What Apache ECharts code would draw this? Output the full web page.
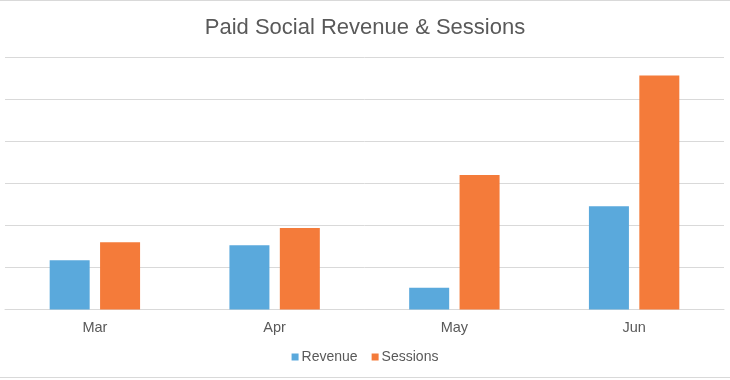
<!DOCTYPE html>
<html>
<head>
<meta charset="utf-8">
<script src="https://cdn.jsdelivr.net/npm/echarts@6/dist/echarts.min.js"></script>
<style>
html,body{margin:0;padding:0;background:#fff;}
#c{width:730px;height:380px;}
</style>
</head>
<body>
<div id="c"></div>
<script>
const categories = ['Mar', 'Apr', 'May', 'Jun'];
const revenue = [1.17, 1.53, 0.52, 2.46];
const sessions = [1.6, 1.94, 3.2, 5.57];
const yTicks = [0, 1, 2, 3, 4, 5, 6];

const chart = echarts.init(document.getElementById('c'));
chart.setOption({
  animation: false,
  backgroundColor: '#ffffff',
  title: {
    text: 'Paid Social Revenue & Sessions',
    left: 'center',
    top: 12,
    textStyle: { fontFamily: 'Liberation Sans', fontSize: 22, fontWeight: 'normal', color: '#595959' }
  },
  legend: {
    bottom: 11,
    left: 'center',
    itemWidth: 7,
    itemHeight: 7,
    itemGap: 14,
    icon: 'rect',
    textStyle: { fontFamily: 'Liberation Sans', fontSize: 14, color: '#595959', padding: [0, 0, 0, -2] },
    data: ['Revenue', 'Sessions']
  },
  grid: { left: 5, right: 6, top: 57.5, bottom: 70.5, containLabel: false },
  xAxis: {
    type: 'category',
    data: categories,
    axisLine: { lineStyle: { color: '#d9d9d9', width: 1 } },
    axisTick: { show: false },
    axisLabel: { fontFamily: 'Liberation Sans', fontSize: 14.5, color: '#595959', margin: 11 }
  },
  yAxis: {
    type: 'value',
    min: yTicks[0],
    max: yTicks[yTicks.length - 1],
    interval: 1,
    axisLabel: { show: false },
    axisLine: { show: false },
    axisTick: { show: false },
    splitLine: { lineStyle: { color: '#d9d9d9', width: 1 } }
  },
  series: [
    {
      name: 'Revenue', type: 'bar', data: revenue,
      barWidth: 40, barGap: '26%',
      itemStyle: { color: '#5aa9dc' }
    },
    {
      name: 'Sessions', type: 'bar', data: sessions,
      barWidth: 40,
      itemStyle: { color: '#f47b3a' }
    }
  ],
  graphic: [
    { type: 'rect', shape: { x: 0, y: 0, width: 730, height: 1 }, style: { fill: '#d9d9d9' } },
    { type: 'rect', shape: { x: 0, y: 377, width: 730, height: 1 }, style: { fill: '#d9d9d9' } }
  ]
});
</script>
</body>
</html>
